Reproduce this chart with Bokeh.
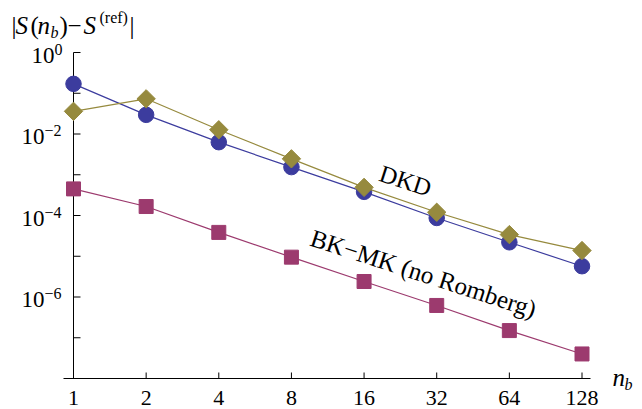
import math
from bokeh.plotting import figure
from bokeh.models import Label
from bokeh.core.properties import value
from bokeh.embed import file_html
from bokeh.resources import INLINE

# ---- data ----
n_b = [1, 2, 4, 8, 16, 32, 64, 128]
err_circle = [1.7e-1, 2.95e-2, 6.3e-3, 1.54e-3, 3.8e-4, 8.7e-5, 2.2e-5, 5.7e-6]
err_dkd = [3.6e-2, 7.3e-2, 1.27e-2, 2.46e-3, 4.9e-4, 1.2e-4, 3.4e-5, 1.38e-5]
err_bkmk = [4.5e-4, 1.66e-4, 3.85e-5, 9.5e-6, 2.4e-6, 6.2e-7, 1.5e-7, 4.0e-8]

x_tick_labels = ["1", "2", "4", "8", "16", "32", "64", "128"]
y_major_ticks = [1e0, 1e-2, 1e-4, 1e-6]
y_major_exps = ["0", "\u22122", "\u22124", "\u22126"]
y_all_ticks = [1e0, 1e-1, 1e-2, 1e-3, 1e-4, 1e-5, 1e-6, 1e-7]
y_axis_bottom = 1e-8
y_axis_top = 1e0

BLUE = "#3c3c9e"
OLIVE = "#968a3e"
MAG = "#9c3a6e"
FONT = "Liberation Serif"
MID = 0.34   # distance (in em) from the alphabetic baseline up to the text middle

# layout (pixels on the canvas)
W, H = 642, 409
AX_L, AX_R = 63, 590          # extent of the x-axis line
X1 = 73                       # pixel of n_b = 1
Y1, Y8 = 52, 378              # pixels of 1e0 and 1e-8
PX_OCT = (581.5 - X1) / 7
PX_DEC = (Y8 - Y1) / 8

def fx(px):
    return 2 ** ((px - X1) / PX_OCT)
def fy(py):
    return 10 ** (-(py - Y1) / PX_DEC)

p = figure(width=W, height=H, x_axis_type="log", y_axis_type="log",
           x_range=(fx(0), fx(W)), y_range=(fy(H), fy(0)),
           x_axis_location=None, y_axis_location=None,
           output_backend="svg", toolbar_location=None,
           min_border=0)
p.outline_line_color = None
p.grid.visible = False
p.background_fill_color = "white"
p.border_fill_color = "white"

# ---- axes ----
# x-axis line, inward ticks and tick labels
p.segment(x0=[fx(AX_L)], y0=[y_axis_bottom], x1=[fx(AX_R)], y1=[y_axis_bottom],
          line_color="black", line_width=1)
p.ray(x=n_b, y=[y_axis_bottom] * len(n_b), length=6, length_units="screen",
      angle=math.pi / 2, line_color="black", line_width=1)
p.text(x=n_b, y=[y_axis_bottom] * len(n_b), text=x_tick_labels,
       y_offset=27 - MID * 22,
       text_font=value(FONT), text_align="center", text_baseline="middle",
       text_font_size="22px", text_color="black")

# y-axis line at n_b = 1, inward ticks and tick labels
p.segment(x0=[1], y0=[y_axis_bottom], x1=[1], y1=[y_axis_top],
          line_color="black", line_width=1)
p.ray(x=[1] * len(y_all_ticks), y=y_all_ticks, length=7, length_units="screen",
      angle=0, line_color="black", line_width=1)
for v, e in zip(y_major_ticks, y_major_exps):
    edge = -19 if e == "0" else -29
    p.text(x=[1], y=[v], text=["10"], x_offset=edge, y_offset=10.5 - MID * 23,
           text_font=value(FONT), text_font_size="23px", text_align="right",
           text_baseline="middle", text_color="black")
    p.text(x=[1], y=[v], text=[e], x_offset=edge, y_offset=2 - MID * 16,
           text_font=value(FONT), text_font_size="16px", text_align="left",
           text_baseline="middle", text_color="black")

# ---- series ----
p.line(n_b, err_circle, line_color=BLUE, line_width=1.2)
p.scatter(n_b, err_circle, marker="circle", size=15.5, fill_color=BLUE, line_color=BLUE)
p.line(n_b, err_dkd, line_color=OLIVE, line_width=1.2)
p.scatter(n_b, err_dkd, marker="square", angle=math.pi / 4, size=13,
          fill_color=OLIVE, line_color=OLIVE)
p.line(n_b, err_bkmk, line_color=MAG, line_width=1.2)
p.scatter(n_b, err_bkmk, marker="square", size=14, fill_color=MAG, line_color=MAG)

# ---- text annotations ----
def lab(text, px, base_py, size, style="normal", align="left", angle=0.0):
    # base_py: pixel row of the alphabetic baseline (horizontal texts)
    p.add_layout(Label(x=fx(px), y=fy(base_py - MID * size), text=text,
                       text_font=FONT, text_font_size=f"{size}px",
                       text_font_style=style, text_align=align,
                       text_baseline="middle", angle=angle, text_color="black"))

def clab(text, px, py, size, angle):
    p.add_layout(Label(x=fx(px), y=fy(py), text=text, text_font=FONT,
                       text_font_size=f"{size}px", text_align="center",
                       text_baseline="middle", angle=angle, text_color="black"))

# title |S(n_b) - S^(ref)|
lab("|", 11, 33, 25)
lab("S", 15, 33, 25, "italic")
lab("(", 30, 33, 25)
lab("n", 37, 33, 25, "italic")
lab("b", 50, 37, 16, "italic")
lab(")", 59, 33, 25)
lab("\u2212", 67, 33, 25)
lab("S", 83, 33, 25, "italic")
lab("(ref)", 99, 22, 16)
lab("|", 129, 33, 25)

# x axis label n_b
lab("n", 612, 385, 25, "italic")
lab("b", 624, 389, 16, "italic")

# series annotations
ang = -math.radians(18)
clab("DKD", 405, 180, 24.5, ang)
clab("BK\u2212MK (no Romberg)", 423, 273, 25, ang)

open("out.html", "w").write(file_html(p, INLINE))
